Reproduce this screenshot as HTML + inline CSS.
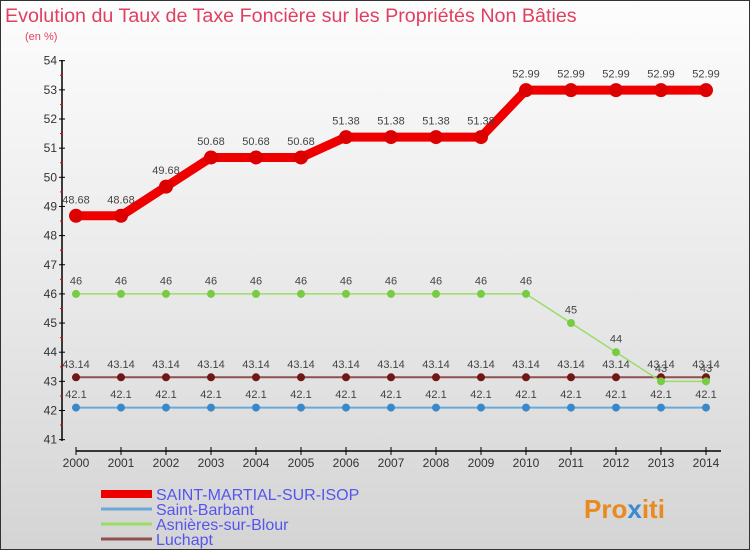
<!DOCTYPE html>
<html><head><meta charset="utf-8"><style>
body{margin:0}
#c{width:748px;height:548px;border:1px solid #333;background:linear-gradient(#fdfdfd,#e6e6e6 60%,#d4d4d4);position:relative;font-family:"Liberation Sans",sans-serif;overflow:hidden}
svg text{font-family:"Liberation Sans",sans-serif}
</style></head><body>
<div id="c">
<svg id="s" width="748" height="548">
<text x="4" y="21" font-size="19.7" fill="#e04060">Evolution du Taux de Taxe Foncière sur les Propriétés Non Bâties</text>
<text x="24" y="39" font-size="11" fill="#e04060">(en %)</text>
<text x="583" y="517" font-size="26" font-weight="bold" fill="#e88a20">Pro<tspan fill="#3a8ad0">x</tspan>iti</text>
</svg>
</div>
<script>
const years=[2000,2001,2002,2003,2004,2005,2006,2007,2008,2009,2010,2011,2012,2013,2014];
const yTicks=[41,42,43,44,45,46,47,48,49,50,51,52,53,54];
const sMartial=[48.68,48.68,49.68,50.68,50.68,50.68,51.38,51.38,51.38,51.38,52.99,52.99,52.99,52.99,52.99];
const sBarbant=[42.1,42.1,42.1,42.1,42.1,42.1,42.1,42.1,42.1,42.1,42.1,42.1,42.1,42.1,42.1];
const sAsnieres=[46,46,46,46,46,46,46,46,46,46,46,45,44,43,43];
const sLuchapt=[43.14,43.14,43.14,43.14,43.14,43.14,43.14,43.14,43.14,43.14,43.14,43.14,43.14,43.14,43.14];
const names=["SAINT-MARTIAL-SUR-ISOP","Saint-Barbant","Asnières-sur-Blour","Luchapt"];
const NS="http://www.w3.org/2000/svg",svg=document.getElementById('s');
const X=i=>75+i*45, Y=v=>59.7+(54-v)*29.15;
function el(t,a,p){const e=document.createElementNS(NS,t);for(const k in a)e.setAttribute(k,a[k]);(p||svg).appendChild(e);return e;}
let ax=el('line',{x1:61,y1:59,x2:61,y2:440,stroke:'#000','stroke-width':1.5});


let xa=el('line',{x1:75,y1:450,x2:720,y2:450,stroke:'#000','stroke-width':1.5});


yTicks.forEach(v=>{
 el('line',{x1:58,x2:64,y1:Y(v),y2:Y(v),stroke:'#000'});
 if(v<54)el('line',{x1:59,x2:62,y1:Y(v+0.5),y2:Y(v+0.5),stroke:'#e00'});
 const t=el('text',{x:56,y:Y(v)+4,'font-size':12,fill:'#333','text-anchor':'end'});t.textContent=v;
 
 
});
years.forEach((y,i)=>{
 el('line',{x1:X(i),x2:X(i),y1:446,y2:454,stroke:'#000'});
 const t=el('text',{x:X(i),y:466,'font-size':12,fill:'#333','text-anchor':'middle'});t.textContent=y;
 
 
});
function series(d,col,w,r,dot,name){
 const g=el('g',{});
 
 
 el('polyline',{points:d.map((v,i)=>X(i)+','+Y(v)).join(' '),fill:'none',stroke:col,'stroke-width':w,'stroke-linejoin':'round'},g);
 d.forEach((v,i)=>{
  const c=el('circle',{cx:X(i),cy:Y(v),r:r,fill:dot,stroke:dot},g);
  
  
  const t=el('text',{x:X(i),y:Y(v)-(r+6),'font-size':11,fill:'#444','text-anchor':'middle'},g);t.textContent=v;
 });
}
series(sBarbant,'#6aa8d8',2,3.5,'#3a88c8','series-saint-barbant');
series(sLuchapt,'#905050',2,3.5,'#701818','series-luchapt');
series(sAsnieres,'#99dd66',1.5,3.5,'#77cc44','series-asnieres');
series(sMartial,'#ee0000',9,6.5,'#dd0000','series-saint-martial');
const cols=['#ee0000','#6aa8d8','#99dd66','#905050'],ws=[8,3,3,3];
names.forEach((n,i)=>{
 const y=493+i*15;
 const l=el('line',{x1:100,x2:151,y1:y,y2:y,stroke:cols[i],'stroke-width':ws[i]});
 
 
 const t=el('text',{x:155,y:y+6,'font-size':16,fill:'#5555ee'});t.textContent=n;
 
 
});
</script>
</body></html>
